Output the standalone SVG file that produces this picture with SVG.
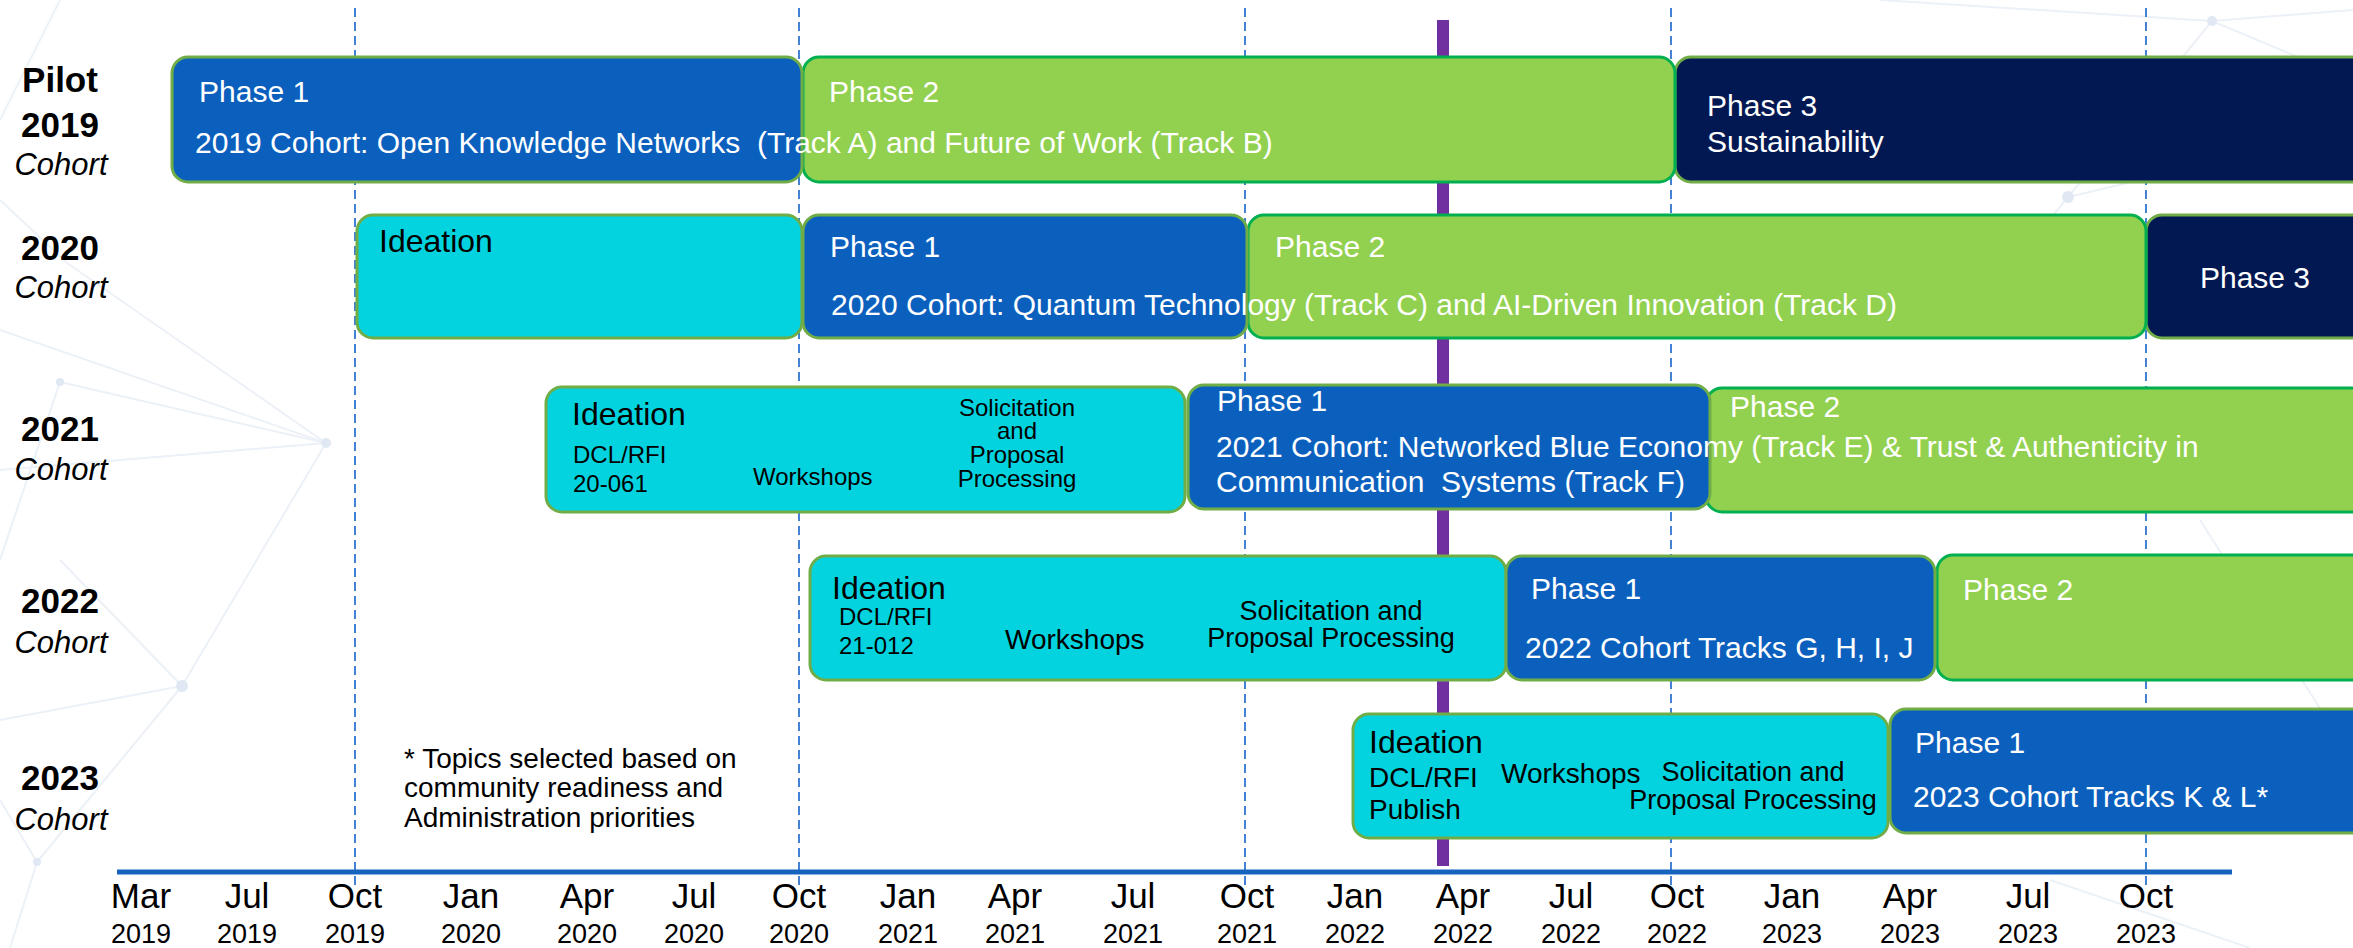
<svg xmlns="http://www.w3.org/2000/svg" width="2353" height="948" viewBox="0 0 2353 948">
<style>
text{font-family:"Liberation Sans",Arial,sans-serif;}
.bg{stroke:#ECF1F7;stroke-width:2;fill:none;}
.dot{fill:#DFE8F3;}
.grid{stroke:#2F75D0;stroke-width:1.8;stroke-dasharray:9,5;fill:none;}
.blue{fill:#0B60BE;stroke:#70AD47;stroke-width:3;}
.green{fill:#92D050;stroke:#00B050;stroke-width:3;}
.navy{fill:#021853;stroke:#70AD47;stroke-width:3;}
.cyan{fill:#03D3DF;stroke:#70AD47;stroke-width:3;}
.w{fill:#FFFFFF;font-size:30px;}
.ide{fill:#000;font-size:32px;}
.s24{fill:#000;font-size:24px;}
.s28{fill:#000;font-size:28px;}
.s27{fill:#000;font-size:27px;}
.rowb{fill:#000;font-size:35px;font-weight:bold;text-anchor:middle;}
.rowi{fill:#000;font-size:31px;font-style:italic;text-anchor:middle;}
.mon{fill:#000;font-size:35px;text-anchor:middle;}
.yr{fill:#000;font-size:27px;text-anchor:middle;}
.mid{text-anchor:middle;}
</style>
<rect x="0" y="0" width="2353" height="948" fill="#FFFFFF"/>
<g id="background">
<line class="bg" x1="326" y1="443" x2="60" y2="382"/>
<line class="bg" x1="326" y1="443" x2="0" y2="330"/>
<line class="bg" x1="326" y1="443" x2="67" y2="263"/>
<line class="bg" x1="326" y1="443" x2="0" y2="470"/>
<line class="bg" x1="326" y1="443" x2="182" y2="686"/>
<line class="bg" x1="60" y1="382" x2="0" y2="560"/>
<line class="bg" x1="182" y1="686" x2="0" y2="720"/>
<line class="bg" x1="182" y1="686" x2="60" y2="560"/>
<line class="bg" x1="182" y1="686" x2="37" y2="862"/>
<line class="bg" x1="37" y1="862" x2="0" y2="800"/>
<line class="bg" x1="37" y1="862" x2="10" y2="948"/>
<line class="bg" x1="67" y1="263" x2="0" y2="200"/>
<line class="bg" x1="0" y1="120" x2="60" y2="0"/>
<line class="bg" x1="2212" y1="21" x2="2068" y2="197"/>
<line class="bg" x1="2212" y1="21" x2="2353" y2="10"/>
<line class="bg" x1="2212" y1="21" x2="1880" y2="0"/>
<line class="bg" x1="2212" y1="21" x2="2353" y2="80"/>
<line class="bg" x1="2068" y1="197" x2="2353" y2="130"/>
<line class="bg" x1="2068" y1="197" x2="1960" y2="330"/>
<line class="bg" x1="2200" y1="520" x2="2353" y2="760"/>
<line class="bg" x1="2050" y1="880" x2="2250" y2="948"/>
<circle class="dot" cx="326" cy="443" r="5"/>
<circle class="dot" cx="182" cy="686" r="6"/>
<circle class="dot" cx="60" cy="382" r="4"/>
<circle class="dot" cx="37" cy="862" r="4"/>
<circle class="dot" cx="2212" cy="21" r="5"/>
<circle class="dot" cx="2068" cy="197" r="6"/>
</g>
<g id="connectors">
<line class="grid" x1="355" y1="8" x2="355" y2="886"/>
<line class="grid" x1="799" y1="8" x2="799" y2="886"/>
<line class="grid" x1="1245" y1="8" x2="1245" y2="886"/>
<line class="grid" x1="1671" y1="8" x2="1671" y2="886"/>
<line class="grid" x1="2146" y1="8" x2="2146" y2="886"/>
<line x1="1443" y1="20" x2="1443" y2="866" stroke="#7030A0" stroke-width="12"/>
<line x1="117" y1="872" x2="2232" y2="872" stroke="#1565C0" stroke-width="5"/>
</g>
<g id="row-labels">
<text class="rowb" x="60" y="92">Pilot</text>
<text class="rowb" x="60" y="137">2019</text>
<text class="rowi" x="61" y="175">Cohort</text>
<text class="rowb" x="60" y="260">2020</text>
<text class="rowi" x="61" y="298">Cohort</text>
<text class="rowb" x="60" y="441">2021</text>
<text class="rowi" x="61" y="480">Cohort</text>
<text class="rowb" x="60" y="613">2022</text>
<text class="rowi" x="61" y="653">Cohort</text>
<text class="rowb" x="60" y="790">2023</text>
<text class="rowi" x="61" y="830">Cohort</text>
</g>
<!-- Row 1 -->
<g id="r1-phase3">
<rect class="navy" x="1675" y="57" width="720" height="125" rx="16"/>
<text class="w" x="1707" y="116">Phase 3</text>
<text class="w" x="1707" y="152">Sustainability</text>
</g>
<g id="r1-phase2">
<rect class="green" x="803" y="57" width="872" height="125" rx="16"/>
<text class="w" x="829" y="102">Phase 2</text>
</g>
<g id="r1-phase1">
<rect class="blue" x="172" y="57" width="630" height="125" rx="16"/>
<text class="w" x="199" y="102">Phase 1</text>
<text class="w" x="195" y="153" xml:space="preserve">2019 Cohort: Open Knowledge Networks  (Track A) and Future of Work (Track B)</text>
</g>
<!-- Row 2 -->
<g id="r2-ideation">
<rect class="cyan" x="357" y="215" width="445" height="123" rx="16"/>
<text class="ide" x="379" y="252">Ideation</text>
</g>
<g id="r2-phase3">
<rect class="navy" x="2146" y="215" width="250" height="123" rx="16"/>
<text class="w mid" x="2255" y="288">Phase 3</text>
</g>
<g id="r2-phase2">
<rect class="green" x="1248" y="215" width="898" height="123" rx="16"/>
<text class="w" x="1275" y="257">Phase 2</text>
</g>
<g id="r2-phase1">
<rect class="blue" x="803" y="215" width="444" height="123" rx="16"/>
<text class="w" x="830" y="257">Phase 1</text>
<text class="w" x="831" y="315">2020 Cohort: Quantum Technology (Track C) and AI-Driven Innovation (Track D)</text>
</g>
<!-- Row 3 -->
<g id="r3-ideation">
<rect class="cyan" x="546" y="387" width="639" height="125" rx="16"/>
<text class="ide" x="572" y="425">Ideation</text>
<text class="s24" x="573" y="463">DCL/RFI</text>
<text class="s24" x="573" y="492">20-061</text>
<text class="s24" x="753" y="485">Workshops</text>
<text class="s24 mid" x="1017" y="416">Solicitation</text>
<text class="s24 mid" x="1017" y="439">and</text>
<text class="s24 mid" x="1017" y="463">Proposal</text>
<text class="s24 mid" x="1017" y="487">Processing</text>
</g>
<g id="r3-phase2">
<rect class="green" x="1706" y="388" width="690" height="124" rx="16"/>
<text class="w" x="1730" y="417">Phase 2</text>
</g>
<g id="r3-phase1">
<rect class="blue" x="1188" y="385" width="522" height="124" rx="16"/>
<text class="w" x="1217" y="411">Phase 1</text>
<text class="w" x="1216" y="457">2021 Cohort: Networked Blue Economy (Track E) &amp; Trust &amp; Authenticity in</text>
<text class="w" x="1216" y="492" xml:space="preserve">Communication  Systems (Track F)</text>
</g>
<!-- Row 4 -->
<g id="r4-ideation">
<rect class="cyan" x="810" y="556" width="696" height="124" rx="16"/>
<text class="ide" x="832" y="599">Ideation</text>
<text class="s24" x="839" y="625">DCL/RFI</text>
<text class="s24" x="839" y="654">21-012</text>
<text class="s28" x="1005" y="649">Workshops</text>
<text class="s27 mid" x="1331" y="620">Solicitation and</text>
<text class="s27 mid" x="1331" y="647">Proposal Processing</text>
</g>
<g id="r4-phase2">
<rect class="green" x="1937" y="555" width="460" height="125" rx="16"/>
<text class="w" x="1963" y="600">Phase 2</text>
</g>
<g id="r4-phase1">
<rect class="blue" x="1506" y="556" width="429" height="124" rx="16"/>
<text class="w" x="1531" y="599">Phase 1</text>
<text class="w" x="1525" y="658">2022 Cohort Tracks G, H, I, J</text>
</g>
<!-- Row 5 -->
<g id="r5-ideation">
<rect class="cyan" x="1353" y="714" width="535" height="124" rx="16"/>
<text class="ide" x="1369" y="753">Ideation</text>
<text class="s28" x="1369" y="787">DCL/RFI</text>
<text class="s28" x="1369" y="819">Publish</text>
<text class="s28" x="1501" y="783">Workshops</text>
<text class="s27 mid" x="1753" y="781">Solicitation and</text>
<text class="s27 mid" x="1753" y="809">Proposal Processing</text>
</g>
<g id="r5-phase1">
<rect class="blue" x="1890" y="709" width="500" height="124" rx="16"/>
<text class="w" x="1915" y="753">Phase 1</text>
<text class="w" x="1913" y="807">2023 Cohort Tracks K &amp; L*</text>
</g>
<g id="footnote">
<text class="s28" x="404" y="768">* Topics selected based on</text>
<text class="s28" x="404" y="797">community readiness and</text>
<text class="s28" x="404" y="827">Administration priorities</text>
</g>
<g id="axis-labels">
<text class="mon" x="141" y="908">Mar</text><text class="yr" x="141" y="943">2019</text>
<text class="mon" x="247" y="908">Jul</text><text class="yr" x="247" y="943">2019</text>
<text class="mon" x="355" y="908">Oct</text><text class="yr" x="355" y="943">2019</text>
<text class="mon" x="471" y="908">Jan</text><text class="yr" x="471" y="943">2020</text>
<text class="mon" x="587" y="908">Apr</text><text class="yr" x="587" y="943">2020</text>
<text class="mon" x="694" y="908">Jul</text><text class="yr" x="694" y="943">2020</text>
<text class="mon" x="799" y="908">Oct</text><text class="yr" x="799" y="943">2020</text>
<text class="mon" x="908" y="908">Jan</text><text class="yr" x="908" y="943">2021</text>
<text class="mon" x="1015" y="908">Apr</text><text class="yr" x="1015" y="943">2021</text>
<text class="mon" x="1133" y="908">Jul</text><text class="yr" x="1133" y="943">2021</text>
<text class="mon" x="1247" y="908">Oct</text><text class="yr" x="1247" y="943">2021</text>
<text class="mon" x="1355" y="908">Jan</text><text class="yr" x="1355" y="943">2022</text>
<text class="mon" x="1463" y="908">Apr</text><text class="yr" x="1463" y="943">2022</text>
<text class="mon" x="1571" y="908">Jul</text><text class="yr" x="1571" y="943">2022</text>
<text class="mon" x="1677" y="908">Oct</text><text class="yr" x="1677" y="943">2022</text>
<text class="mon" x="1792" y="908">Jan</text><text class="yr" x="1792" y="943">2023</text>
<text class="mon" x="1910" y="908">Apr</text><text class="yr" x="1910" y="943">2023</text>
<text class="mon" x="2028" y="908">Jul</text><text class="yr" x="2028" y="943">2023</text>
<text class="mon" x="2146" y="908">Oct</text><text class="yr" x="2146" y="943">2023</text>
</g>
</svg>
